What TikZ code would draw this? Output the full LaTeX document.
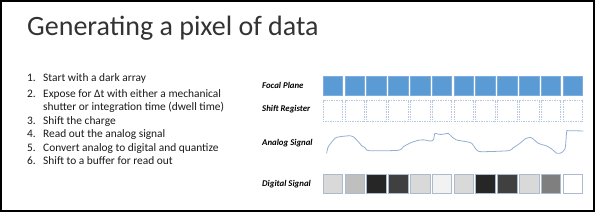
\documentclass[tikz,border=0pt]{standalone}
\usepackage{fontspec}
\setmainfont{Carlito}
\definecolor{fpblue}{HTML}{5B9BD5}
\definecolor{fpedge}{HTML}{7FAEDC}
\definecolor{sredge}{HTML}{B7C8E0}
\definecolor{dsedge}{HTML}{ADBACC}
\definecolor{sigcol}{HTML}{93AED3}
\begin{document}
\begin{tikzpicture}[x=1pt,y=-1pt,
  titletext/.style={anchor=base west,inner sep=0pt,text=black!80,font=\fontsize{28}{30}\selectfont},
  itemtext/.style={anchor=base west,inner sep=0pt,text=black!90,font=\fontsize{11.4}{13}\selectfont},
  rowlabel/.style={anchor=west,inner sep=0pt,font=\fontsize{8.8}{10}\selectfont\bfseries\itshape},
  fpbox/.style={draw=fpedge,fill=fpblue,line width=0.6pt,minimum width=19.6pt,minimum height=19.3pt,inner sep=0pt,anchor=north west},
  srbox/.style={draw=sredge,dash pattern=on 1pt off 0.7pt,line width=0.55pt,minimum width=19.6pt,minimum height=20.4pt,inner sep=0pt,anchor=north west},
  dsbox/.style={draw=dsedge,line width=0.9pt,minimum width=19.6pt,minimum height=19.3pt,inner sep=0pt,anchor=north west}]
\useasboundingbox (0,0) rectangle (598,214);
\draw[line width=1.2pt] (1,1) rectangle (594,211);
\node[titletext] (title) at (27,35) {Generating a pixel of data};
\node[itemtext] (n1) at (27,81) {1.};
\node[itemtext] (t1) at (43,81) {Start with a dark array};
\node[itemtext] (n2) at (27,97) {2.};
\node[itemtext] (t2) at (43,97) {Expose for Δt with either a mechanical};
\node[itemtext] (t2b) at (43,110.5) {shutter or integration time (dwell time)};
\node[itemtext] (n3) at (27,124.5) {3.};
\node[itemtext] (t3) at (43,124.5) {Shift the charge};
\node[itemtext] (n4) at (27,137.5) {4.};
\node[itemtext] (t4) at (43,137.5) {Read out the analog signal};
\node[itemtext] (n5) at (27,151) {5.};
\node[itemtext] (t5) at (43,151) {Convert analog to digital and quantize};
\node[itemtext] (n6) at (27,164.5) {6.};
\node[itemtext] (t6) at (43,164.5) {Shift to a buffer for read out};
\node[rowlabel] (lfp) at (262,85.7) {Focal Plane};
\node[rowlabel] (lsr) at (262,109.5) {Shift Register};
\node[rowlabel] (las) at (262,143) {Analog Signal};
\node[rowlabel] (lds) at (262,184) {Digital Signal};
\foreach \i in {0,...,11} {
  \node[fpbox] (fp\i) at (322.7+21.8*\i,76) {};
  \node[srbox] (sr\i) at (322.7+21.8*\i,100.3) {};
}
\foreach \c [count=\j from 0] in {D9D9D9,BFBFBF,262626,404040,D9D9D9,F2F2F2,D9D9D9,262626,404040,D9D9D9,7F7F7F,FFFFFF} {
  \definecolor{dscol}{HTML}{\c}
  \node[dsbox,fill=dscol] (ds\j) at (322.7+21.8*\j,174) {};
}
\draw[sigcol,line width=0.8pt,line join=round] plot[smooth,tension=0.4] coordinates {
 (326.7,153.3) (328.3,146.7) (335,138.3) (340,136.7) (350,135.7) (353.3,136.7)
 (358.3,141.7) (361.7,145.7) (365,147.7) (369.3,150.7) (398.3,150.3) (403.3,146.7)
 (411.7,142.3) (420,140) (425,140) (430,141) (433.3,140) (435,133.3) (438.3,134.3)
 (443.3,134.3) (448.3,133.3) (451.7,136.7) (456.7,140) (466.7,141.7) (471.7,143.3)
 (476.7,150) (481.7,151.7) (508.3,150.7) (513.3,147.7) (520,143.3) (525,139)
 (530,137.3) (533.3,139) (538.3,143.3) (546.7,146) (551.7,149) (556.7,153.3)
 (560,153.3) (565,149) (566.7,131.7) (568.3,130.7) (583.3,131)};
\end{tikzpicture}
\end{document}
